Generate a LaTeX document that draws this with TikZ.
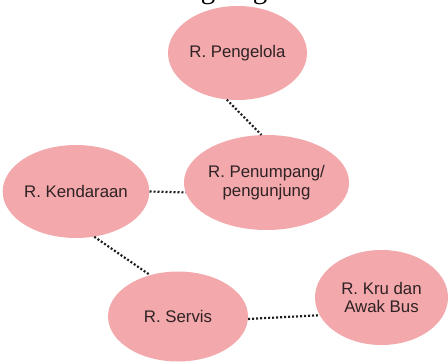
\documentclass[tikz,border=0pt]{standalone}
\usepackage{fontspec}
\setmainfont{Liberation Sans}
\newfontfamily\capfont{Liberation Serif}
\usetikzlibrary{shapes.geometric}
\definecolor{roomfill}{HTML}{F3A8AB}
\definecolor{roomtext}{HTML}{2E2224}
\definecolor{dotcol}{HTML}{1E1E1E}
\begin{document}
\begin{tikzpicture}[x=1pt,y=-1pt,
  room/.style={ellipse, fill=roomfill, draw=none, inner sep=0pt, align=center,
    text=roomtext, font=\fontsize{16.8}{18.5}\selectfont},
  link/.style={draw=dotcol, line width=2.2pt, dash pattern=on 2pt off 2pt}]
\useasboundingbox[fill=white] (0,0) rectangle (448,362);
% clipped caption descenders at top
\node[anchor=base, inner sep=0pt, font=\capfont\fontsize{29}{30}\selectfont] (capg1) at (208,-1.5) {g};
\node[anchor=base, inner sep=0pt, font=\capfont\fontsize{29}{30}\selectfont] (capg2) at (260,-1.5) {g};
% rooms
\node[room, minimum width=139pt, minimum height=94pt] (peng) at (237.5,53) {R. Pengelola};
\node[room, minimum width=137pt, minimum height=95pt] (pen) at (266.5,182.5) {R. Penumpang/\\pengunjung};
\node[room, minimum width=138pt, minimum height=93pt] (kend) at (76,191.5) {R. Kendaraan};
\node[room, minimum width=140pt, minimum height=90pt] (serv) at (178,316.5) {R. Servis};
\node[room, minimum width=133pt, minimum height=95pt] (kru) at (381.5,297.5) {R. Kru dan\\Awak Bus};
% links
\draw[link] (peng.257) -- (pen.96);
\draw[link] (kend.east) -- (pen.187);
\draw[link] (kend.292) -- (serv.124);
\draw[link] (serv.358) -- (kru.196);
\end{tikzpicture}
\end{document}
